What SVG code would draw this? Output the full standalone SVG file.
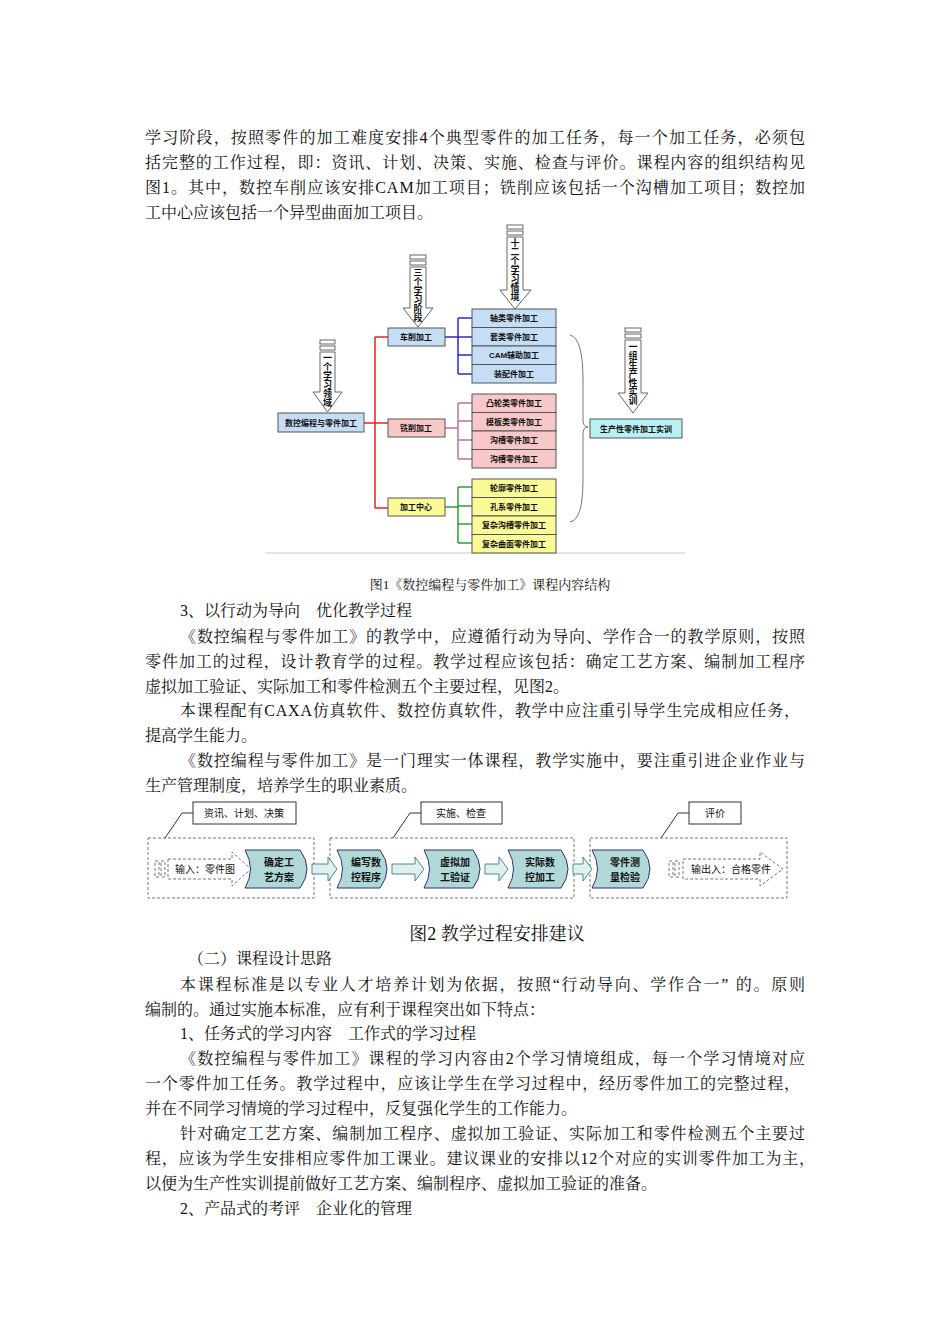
<svg xmlns="http://www.w3.org/2000/svg" width="950" height="1344" viewBox="0 0 950 1344">
<style>
.p{font-family:"Liberation Serif","Noto Serif CJK SC","Noto Sans CJK SC",serif;font-size:16px;fill:#111}
.s{font-family:"Liberation Sans","Noto Sans CJK SC",sans-serif;font-size:8px;font-weight:bold;fill:#111;text-anchor:middle}
.v{font-family:"Liberation Sans","Noto Sans CJK SC",sans-serif;font-size:9px;font-weight:bold;fill:#111;text-anchor:middle}
.t{font-family:"Liberation Sans","Noto Sans CJK SC",sans-serif;font-size:10px;fill:#111}
.tb{font-family:"Liberation Sans","Noto Sans CJK SC",sans-serif;font-size:10px;font-weight:bold;fill:#111;text-anchor:middle}
.ar{fill:#fff;stroke:#666;stroke-width:1}
.bl{fill:#c5ddf5;stroke:#555;stroke-width:1}
.rd{fill:#f8c8c8;stroke:#555;stroke-width:1}
.yl{fill:#fafa96;stroke:#555;stroke-width:1}
.cy{fill:#b8f0f4;stroke:#555;stroke-width:1}
.dg{fill:none;stroke:#777;stroke-dasharray:3,2}
.ch{fill:#b0d8d8;stroke:#336;stroke-width:1}
.ba{fill:#e0f0f0;stroke:#4a8a8a;stroke-width:1}
.lb{fill:#fff;stroke:#333;stroke-width:1}
</style>
<rect width="950" height="1344" fill="#fff"/>
<g id="text">
<text class="p" x="145" y="143" textLength="660" lengthAdjust="spacing">学习阶段，按照零件的加工难度安排4个典型零件的加工任务，每一个加工任务，必须包</text>
<text class="p" x="145" y="168" textLength="660" lengthAdjust="spacing">括完整的工作过程，即：资讯、计划、决策、实施、检查与评价。课程内容的组织结构见</text>
<text class="p" x="145" y="193" textLength="660" lengthAdjust="spacing">图1。其中，数控车削应该安排CAM加工项目；铣削应该包括一个沟槽加工项目；数控加</text>
<text class="p" x="145" y="218">工中心应该包括一个异型曲面加工项目。</text>
<text class="p" x="490" y="589" style="font-size:13px" text-anchor="middle">图1《数控编程与零件加工》课程内容结构</text>
<text class="p" x="180" y="616">3、以行动为导向　优化教学过程</text>
<text class="p" x="180" y="642" textLength="625" lengthAdjust="spacing">《数控编程与零件加工》的教学中，应遵循行动为导向、学作合一的教学原则，按照</text>
<text class="p" x="145" y="667" textLength="660" lengthAdjust="spacing">零件加工的过程，设计教育学的过程。教学过程应该包括：确定工艺方案、编制加工程序</text>
<text class="p" x="145" y="692">虚拟加工验证、实际加工和零件检测五个主要过程，见图2。</text>
<text class="p" x="180" y="716" textLength="620" lengthAdjust="spacing">本课程配有CAXA仿真软件、数控仿真软件，教学中应注重引导学生完成相应任务，</text>
<text class="p" x="145" y="741">提高学生能力。</text>
<text class="p" x="180" y="766" textLength="625" lengthAdjust="spacing">《数控编程与零件加工》是一门理实一体课程，教学实施中，要注重引进企业作业与</text>
<text class="p" x="145" y="791">生产管理制度，培养学生的职业素质。</text>
<text class="p" x="497" y="940" style="font-size:18px" text-anchor="middle">图2  教学过程安排建议</text>
<text class="p" x="188" y="964">（二）课程设计思路</text>
<text class="p" x="180" y="990" textLength="625" lengthAdjust="spacing">本课程标准是以专业人才培养计划为依据，按照“行动导向、学作合一” 的。原则</text>
<text class="p" x="145" y="1015">编制的。通过实施本标准，应有利于课程突出如下特点：</text>
<text class="p" x="180" y="1039">1、任务式的学习内容　工作式的学习过程</text>
<text class="p" x="180" y="1064" textLength="625" lengthAdjust="spacing">《数控编程与零件加工》课程的学习内容由2个学习情境组成，每一个学习情境对应</text>
<text class="p" x="145" y="1089" textLength="655" lengthAdjust="spacing">一个零件加工任务。教学过程中，应该让学生在学习过程中，经历零件加工的完整过程，</text>
<text class="p" x="145" y="1114">并在不同学习情境的学习过程中，反复强化学生的工作能力。</text>
<text class="p" x="180" y="1139" textLength="625" lengthAdjust="spacing">针对确定工艺方案、编制加工程序、虚拟加工验证、实际加工和零件检测五个主要过</text>
<text class="p" x="145" y="1164" textLength="670" lengthAdjust="spacing">程，应该为学生安排相应零件加工课业。建议课业的安排以12个对应的实训零件加工为主，</text>
<text class="p" x="145" y="1189">以便为生产性实训提前做好工艺方案、编制程序、虚拟加工验证的准备。</text>
<text class="p" x="180" y="1214">2、产品式的考评　企业化的管理</text>
</g>
<g id="fig1-connectors" fill="none" stroke-width="1.5">
<path d="M364,423 H388 M375,337 V508 M375,337 H388 M375,508 H388" stroke="#e82020"/>
<path d="M445,337 H458 M458,318 V374 M458,318 H472 M458,337 H472 M458,355 H472 M458,374 H472" stroke="#2a2ad0"/>
<path d="M445,428 H458 M458,403 V459 M458,403 H472 M458,421 H472 M458,440 H472 M458,459 H472" stroke="#c070a0"/>
<path d="M445,507 H458 M458,487 V543 M458,487 H472 M458,506 H472 M458,524 H472 M458,543 H472" stroke="#30a030"/>
<path d="M570,335 Q583,338 583,380 V420 Q583,427 588,427 Q583,427 583,434 V480 Q583,520 570,522" stroke="#777" stroke-width="1"/>
<line x1="265" y1="553" x2="685" y2="553" stroke="#ddd"/>
</g>
<g id="arrow1">
<rect class="ar" x="320" y="340" width="15" height="4"/><rect class="ar" x="320" y="346" width="15" height="4"/>
<polygon class="ar" points="320,352 335,352 335,392 342,392 327.5,412 313,392 320,392"/>
<text class="v"><tspan x="327.5" y="361">一</tspan><tspan x="327.5" y="370">个</tspan><tspan x="327.5" y="379">学</tspan><tspan x="327.5" y="388">习</tspan><tspan x="327.5" y="397">领</tspan><tspan x="327.5" y="406">域</tspan></text>
</g>
<g id="arrow2">
<rect class="ar" x="410" y="255" width="16" height="4"/><rect class="ar" x="410" y="261" width="16" height="4"/>
<polygon class="ar" points="410,267 426,267 426,308 433,308 418,327 403,308 410,308"/>
<text class="v"><tspan x="418" y="276">三</tspan><tspan x="418" y="285">个</tspan><tspan x="418" y="294">学</tspan><tspan x="418" y="303">习</tspan><tspan x="418" y="312">阶</tspan><tspan x="418" y="321">段</tspan></text>
</g>
<g id="arrow3">
<rect class="ar" x="507" y="225" width="16" height="4"/><rect class="ar" x="507" y="231" width="16" height="4"/>
<polygon class="ar" points="507,237 523,237 523,290 531,290 515,309 500,290 507,290"/>
<text class="v"><tspan x="515" y="246">十</tspan><tspan x="515" y="255">二</tspan><tspan x="515" y="264">个</tspan><tspan x="515" y="273">学</tspan><tspan x="515" y="282">习</tspan><tspan x="515" y="291">情</tspan><tspan x="515" y="300">境</tspan></text>
</g>
<g id="arrow4">
<rect class="ar" x="625" y="328" width="16" height="4"/><rect class="ar" x="625" y="334" width="16" height="4"/>
<polygon class="ar" points="625,340 641,340 641,393 648,393 633,413 618,393 625,393"/>
<text class="v"><tspan x="633" y="350">一</tspan><tspan x="633" y="359">组</tspan><tspan x="633" y="368">生</tspan><tspan x="633" y="377">产</tspan><tspan x="633" y="386">性</tspan><tspan x="633" y="395">实</tspan><tspan x="633" y="404">训</tspan></text>
</g>
<g id="root"><rect class="bl" x="278" y="413" width="86" height="19"/><text class="s" x="321" y="426">数控编程与零件加工</text></g>
<g id="n-chexiao"><rect class="bl" x="388" y="328" width="57" height="18"/><text class="s" x="416" y="340">车削加工</text></g>
<g id="n-xixiao"><rect class="rd" x="388" y="419" width="57" height="18"/><text class="s" x="416" y="431">铣削加工</text></g>
<g id="n-center"><rect class="yl" x="388" y="498" width="57" height="18"/><text class="s" x="416" y="510">加工中心</text></g>
<g id="b1"><rect class="bl" x="472" y="309" width="84" height="18.5"/><text class="s" x="514" y="321">轴类零件加工</text></g>
<g id="b2"><rect class="bl" x="472" y="327.5" width="84" height="18.5"/><text class="s" x="514" y="340">套类零件加工</text></g>
<g id="b3"><rect class="bl" x="472" y="346" width="84" height="18.5"/><text class="s" x="514" y="358">CAM辅助加工</text></g>
<g id="b4"><rect class="bl" x="472" y="364.5" width="84" height="18.5"/><text class="s" x="514" y="377">装配件加工</text></g>
<g id="r1"><rect class="rd" x="472" y="394" width="84" height="18.5"/><text class="s" x="514" y="406">凸轮类零件加工</text></g>
<g id="r2"><rect class="rd" x="472" y="412.5" width="84" height="18.5"/><text class="s" x="514" y="425">模板类零件加工</text></g>
<g id="r3"><rect class="rd" x="472" y="431" width="84" height="18.5"/><text class="s" x="514" y="443">沟槽零件加工</text></g>
<g id="r4"><rect class="rd" x="472" y="449.5" width="84" height="18.5"/><text class="s" x="514" y="462">沟槽零件加工</text></g>
<g id="y1"><rect class="yl" x="472" y="479" width="84" height="18.5"/><text class="s" x="514" y="491">轮廓零件加工</text></g>
<g id="y2"><rect class="yl" x="472" y="497.5" width="84" height="18.5"/><text class="s" x="514" y="510">孔系零件加工</text></g>
<g id="y3"><rect class="yl" x="472" y="516" width="84" height="18.5"/><text class="s" x="514" y="528">复杂沟槽零件加工</text></g>
<g id="y4"><rect class="yl" x="472" y="534.5" width="84" height="18.5"/><text class="s" x="514" y="547">复杂曲面零件加工</text></g>
<g id="prod"><rect class="cy" x="590" y="419" width="92" height="19"/><text class="s" x="636" y="432">生产性零件加工实训</text></g>
<g id="fig2-groups">
<rect class="dg" x="148" y="838" width="166" height="60"/>
<rect class="dg" x="330" y="838" width="244" height="60"/>
<rect class="dg" x="590" y="838" width="197" height="60"/>
<path d="M193,813 H182 L165,838 M421,813 H410 L393,838 M689,813 H678 L661,838" fill="none" stroke="#333"/>
</g>
<g id="lab1"><rect class="lb" x="193" y="802" width="103" height="22"/><text class="t" x="244" y="817" text-anchor="middle">资讯、计划、决策</text></g>
<g id="lab2"><rect class="lb" x="421" y="802" width="81" height="22"/><text class="t" x="461" y="817" text-anchor="middle">实施、检查</text></g>
<g id="lab3"><rect class="lb" x="689" y="802" width="52" height="22"/><text class="t" x="715" y="817" text-anchor="middle">评价</text></g>
<g id="fig2-arrows">
<polygon class="ba" points="312,864 328,864 328,857 337,869 328,881 328,874 312,874"/>
<polygon class="ba" points="392,864 415,864 415,857 424,869 415,881 415,874 392,874"/>
<polygon class="ba" points="485,864 499,864 499,857 508,869 499,881 499,874 485,874"/>
<polygon class="ba" points="573,864 583,864 583,857 592,869 583,881 583,874 573,874"/>
</g>
<g id="input">
<rect class="dg" x="155" y="861" width="4" height="16"/><rect class="dg" x="161" y="861" width="4" height="16"/>
<polygon class="dg" points="168,859 232,859 232,852 251,869 232,886 232,879 168,879"/>
<text class="t" x="175" y="873">输入：零件图</text>
</g>
<g id="s1"><path class="ch" d="M245,850 H300 Q314,869 300,888 H245 Q256,869 245,850 Z"/><text class="tb"><tspan x="279" y="866">确定工</tspan><tspan x="279" y="881">艺方案</tspan></text></g>
<g id="s2"><path class="ch" d="M337,850 H380 Q394,869 380,888 H337 Q348,869 337,850 Z"/><text class="tb"><tspan x="366" y="866">编写数</tspan><tspan x="366" y="881">控程序</tspan></text></g>
<g id="s3"><path class="ch" d="M424,850 H473 Q487,869 473,888 H424 Q435,869 424,850 Z"/><text class="tb"><tspan x="455" y="866">虚拟加</tspan><tspan x="455" y="881">工验证</tspan></text></g>
<g id="s4"><path class="ch" d="M508,850 H561 Q575,869 561,888 H508 Q519,869 508,850 Z"/><text class="tb"><tspan x="540" y="866">实际数</tspan><tspan x="540" y="881">控加工</tspan></text></g>
<g id="s5"><path class="ch" d="M592,850 H643 Q657,869 643,888 H592 Q603,869 592,850 Z"/><text class="tb"><tspan x="625" y="866">零件测</tspan><tspan x="625" y="881">量检验</tspan></text></g>
<g id="output">
<rect class="dg" x="669" y="861" width="4" height="16"/><rect class="dg" x="675" y="861" width="4" height="16"/>
<polygon class="dg" points="683,859 760,859 760,852 783,869 760,886 760,879 683,879"/>
<text class="t" x="691" y="873">输出入：合格零件</text>
</g>
</svg>
